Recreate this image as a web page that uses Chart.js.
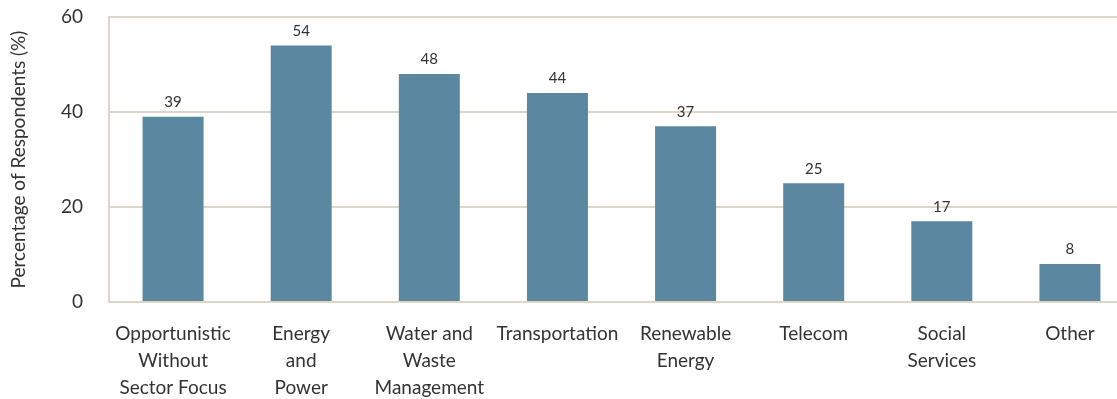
<!DOCTYPE html>
<html>
<head>
<meta charset="utf-8">
<script src="https://cdn.jsdelivr.net/npm/chart.js@4.4.0/dist/chart.umd.min.js"></script>
<style>
  html, body { margin: 0; padding: 0; background: #fff; overflow: hidden; }
  #wrap { width: 1140px; height: 399px; }
</style>
</head>
<body>
<div id="wrap"><canvas id="sectors" width="1140" height="399"></canvas></div>
<script>
const sectors = [
    ["Opportunistic", "Without", "Sector Focus"],
    ["Energy", "and", "Power"],
    ["Water and", "Waste", "Management"],
    "Transportation",
    ["Renewable", "Energy"],
    "Telecom",
    ["Social", "Services"],
    "Other"
];
const respondents = [39, 54, 48, 44, 37, 25, 17, 8];
const yTicks = [0, 20, 40, 60];

const barColor = "#5b87a0";
const gridColor = "#ddd5c6";
const textColor = "#333333";
const fontFamily = "Lato, 'Open Sans', sans-serif";

// value printed above each bar
const barValues = {
    id: "barValues",
    afterDatasetsDraw(chart) {
        const ctx = chart.ctx;
        const meta = chart.getDatasetMeta(0);
        ctx.save();
        ctx.font = "15px " + fontFamily;
        ctx.fillStyle = textColor;
        ctx.textAlign = "center";
        ctx.textBaseline = "bottom";
        meta.data.forEach((bar, i) => {
            ctx.fillText(respondents[i], bar.x, bar.y - 7);
        });
        ctx.restore();
    }
};

const config = {
    type: "bar",
    data: {
        labels: sectors,
        datasets: [{
            data: respondents,
            backgroundColor: barColor,
            borderWidth: 0,
            categoryPercentage: 1.0,
            barPercentage: 0.476
        }]
    },
    options: {
        responsive: false,
        animation: false,
        devicePixelRatio: 1,
        layout: {
            padding: {top: 17, right: 6, left: 0, bottom: 0}
        },
        plugins: {
            legend: {display: false},
            tooltip: {enabled: false}
        },
        scales: {
            x: {
                grid: {display: false},
                border: {display: false},
                ticks: {
                    color: textColor,
                    font: {family: fontFamily, size: 19, lineHeight: 1.42},
                    padding: 10,
                    maxRotation: 0,
                    autoSkip: false
                },
                afterFit(scale) {
                    scale.height = 97;
                }
            },
            y: {
                min: 0,
                max: 60,
                afterBuildTicks(scale) {
                    scale.ticks = yTicks.map(v => ({value: v}));
                },
                grid: {
                    color: gridColor,
                    lineWidth: 2,
                    drawTicks: false
                },
                border: {
                    display: true,
                    color: gridColor,
                    width: 2
                },
                ticks: {
                    color: textColor,
                    font: {family: fontFamily, size: 19},
                    padding: 26
                },
                title: {
                    display: true,
                    text: "Percentage of Respondents (%)",
                    color: textColor,
                    font: {family: fontFamily, size: 19},
                    padding: {top: 7, bottom: 0}
                },
                afterFit(scale) {
                    scale.width = 109;
                    // tick padding would otherwise push the plot down
                    scale.paddingTop = 0;
                    scale.paddingBottom = 0;
                }
            }
        }
    },
    plugins: [barValues]
};

const sectorChart = new Chart(document.getElementById("sectors"), config);
</script>
</body>
</html>
